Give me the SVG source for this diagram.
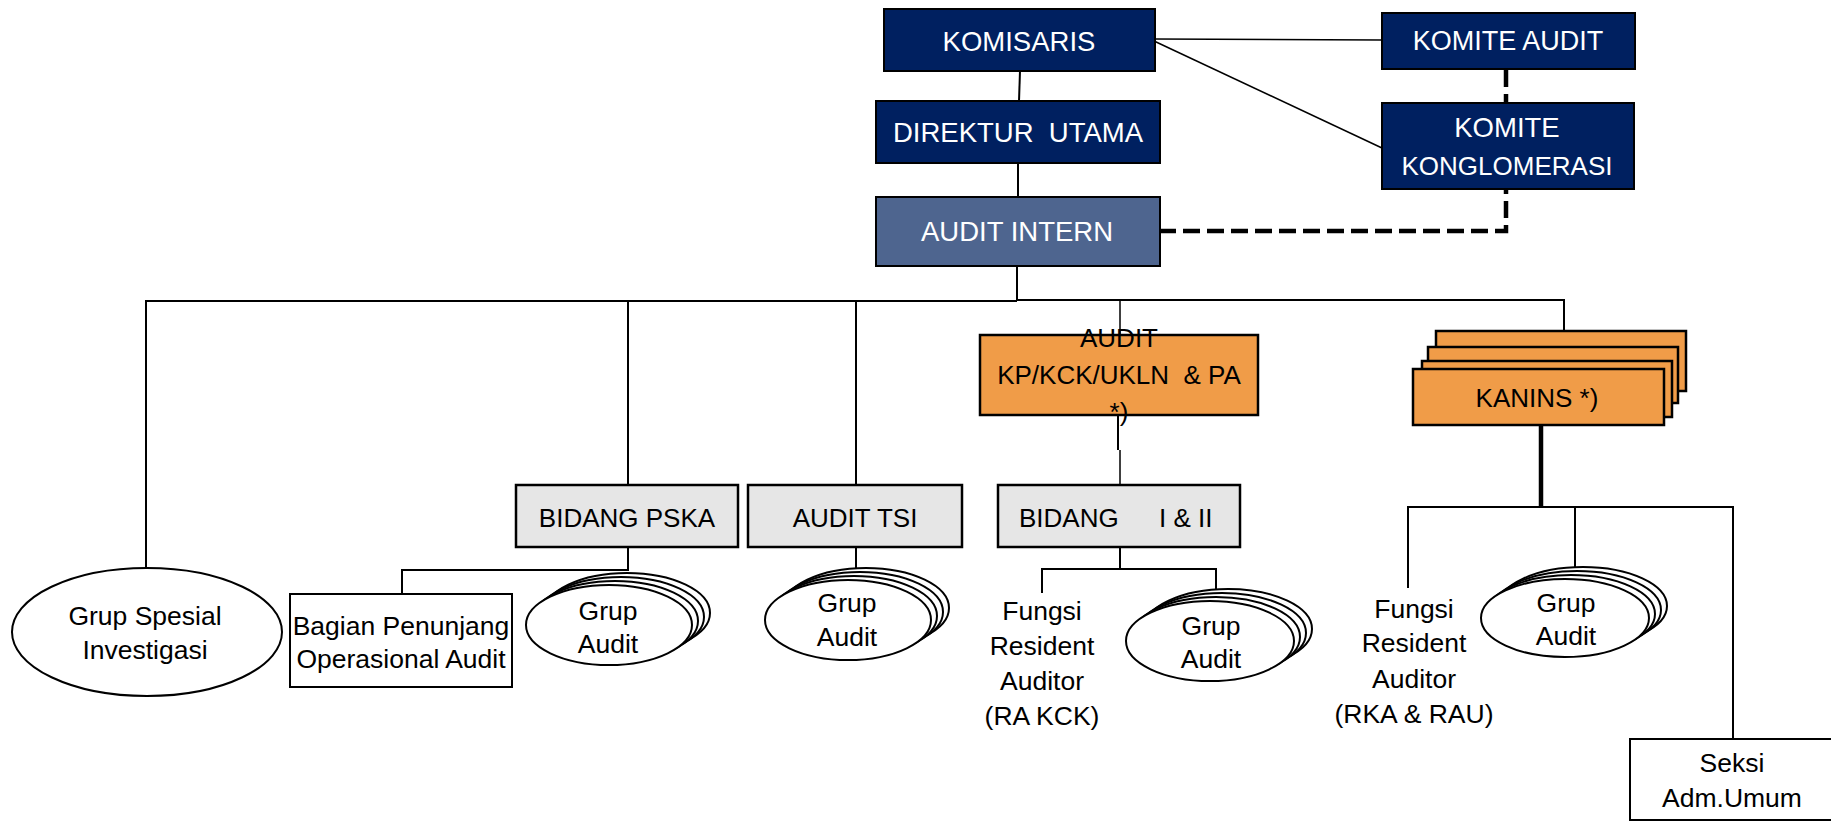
<svg xmlns="http://www.w3.org/2000/svg" width="1831" height="821" viewBox="0 0 1831 821">
<style>
  text { font-family: "Liberation Sans", Arial, sans-serif; text-anchor: middle; }
  .navy { fill: #002060; stroke: #000; stroke-width: 2; }
  .steel { fill: #4e658f; stroke: #000; stroke-width: 2; }
  .orange { fill: #f09c48; stroke: #000; stroke-width: 2.5; }
  .grey { fill: #e6e6e6; stroke: #000; stroke-width: 2.5; }
  .white { fill: #fff; stroke: #000; stroke-width: 2; }
  .ell { fill: #fff; stroke: #000; stroke-width: 2; }
  .wt { fill: #fff; font-size: 27.5px; }
  .bt { fill: #000; font-size: 26px; }
  .lt { fill: #000; font-size: 26.5px; }
  .ln { fill: none; stroke: #000; stroke-width: 2; }
  .thin { fill: none; stroke: #000; stroke-width: 1.5; }
  .thick { fill: none; stroke: #000; stroke-width: 4.5; }
  .dash { fill: none; stroke: #000; stroke-width: 4.5; stroke-dasharray: 17 7; }
</style>

<g id="connectors">
  <line class="ln" x1="1020" y1="71" x2="1019" y2="101"/>
  <line class="ln" x1="1018" y1="163" x2="1018" y2="197"/>
  <line class="thin" x1="1154" y1="39" x2="1382" y2="40"/>
  <line class="thin" x1="1154" y1="41" x2="1382" y2="148"/>
  <path class="dash" d="M1159,231 H1506 V189"/>
  <path class="dash" d="M1506,70 V103" stroke-dasharray="27 10"/>
  <path class="ln" d="M1017,266 V300" stroke-width="2.5"/>
  <path class="ln" d="M146,568 V301 H1017" stroke-width="2.5"/>
  <path class="ln" d="M628,301 V485"/>
  <path class="ln" d="M1017,300 H1564 V331"/>
  <path class="ln" d="M856,300 V485"/>
  <path class="thin" d="M1120,300 V335"/>
  <path class="ln" d="M1118,415 V450"/>
  <path class="thin" d="M1120,450 V485"/>
  <path class="ln" d="M628,547 V570 H402 V594"/>
  <path class="ln" d="M856,547 V568"/>
  <path class="ln" d="M1120,547 V569"/>
  <path class="ln" d="M1042,593 V569 H1216 V590"/>
  <path class="thick" d="M1541,426 V507"/>
  <path class="ln" d="M1408,588 V507 H1733 V739"/>
  <path class="ln" d="M1575,507 V567"/>
</g>

<g id="komisaris">
  <rect class="navy" x="884" y="9" width="271" height="62"/>
  <text class="wt" x="1019" y="51">KOMISARIS</text>
</g>
<g id="komite-audit">
  <rect class="navy" x="1382" y="13" width="253" height="56"/>
  <text class="wt" x="1508" y="50" style="font-size:27px">KOMITE AUDIT</text>
</g>
<g id="direktur-utama">
  <rect class="navy" x="876" y="101" width="284" height="62"/>
  <text class="wt" x="1018" y="142" xml:space="preserve">DIREKTUR  UTAMA</text>
</g>
<g id="komite-konglomerasi">
  <rect class="navy" x="1382" y="103" width="252" height="86"/>
  <text class="wt" x="1507" y="137">KOMITE</text>
  <text class="wt" x="1507" y="175" style="font-size:26px">KONGLOMERASI</text>
</g>
<g id="audit-intern">
  <rect class="steel" x="876" y="197" width="284" height="69"/>
  <text class="wt" x="1017" y="241">AUDIT INTERN</text>
</g>

<g id="audit-kp">
  <rect class="orange" x="980" y="335" width="278" height="80"/>
  <text class="bt" x="1119" y="347">AUDIT</text>
  <text class="bt" x="1119" y="384" xml:space="preserve">KP/KCK/UKLN  &amp; PA</text>
  <text class="bt" x="1119" y="421">*)</text>
</g>

<g id="kanins">
  <rect class="orange" x="1436" y="331" width="250" height="60"/>
  <rect class="orange" x="1428" y="347" width="250" height="56"/>
  <rect class="orange" x="1422" y="361" width="250" height="56"/>
  <rect class="orange" x="1413" y="369" width="251" height="56"/>
  <text class="bt" x="1537" y="407">KANINS *)</text>
</g>

<g id="bidang-pska">
  <rect class="grey" x="516" y="485" width="222" height="62"/>
  <text class="bt" x="627" y="527">BIDANG PSKA</text>
</g>
<g id="audit-tsi">
  <rect class="grey" x="748" y="485" width="214" height="62"/>
  <text class="bt" x="855" y="527">AUDIT TSI</text>
</g>
<g id="bidang-1-2">
  <rect class="grey" x="998" y="485" width="242" height="62"/>
  <text class="bt" y="527" style="text-anchor:start"><tspan x="1019">BIDANG</tspan><tspan x="1159">I &amp; II</tspan></text>
</g>

<g id="grup-spesial-investigasi">
  <ellipse class="ell" cx="147" cy="632" rx="135" ry="64"/>
  <text class="lt" x="145" y="625">Grup Spesial</text>
  <text class="lt" x="145" y="659">Investigasi</text>
</g>

<g id="bagian-penunjang">
  <rect class="white" x="290" y="594" width="222" height="93"/>
  <text class="lt" x="401" y="635">Bagian Penunjang</text>
  <text class="lt" x="401" y="668">Operasional Audit</text>
</g>

<g id="grup-audit-pska">
  <ellipse class="ell" cx="627" cy="613" rx="83" ry="40"/>
  <ellipse class="ell" cx="621" cy="617" rx="83" ry="40"/>
  <ellipse class="ell" cx="615" cy="621" rx="83" ry="40"/>
  <ellipse class="ell" cx="609" cy="625" rx="83" ry="40"/>
  <text class="lt" x="608" y="620">Grup</text>
  <text class="lt" x="608" y="653">Audit</text>
</g>

<g id="grup-audit-tsi">
  <ellipse class="ell" cx="866" cy="608" rx="83" ry="40"/>
  <ellipse class="ell" cx="860" cy="612" rx="83" ry="40"/>
  <ellipse class="ell" cx="854" cy="616" rx="83" ry="40"/>
  <ellipse class="ell" cx="848" cy="620" rx="83" ry="40"/>
  <text class="lt" x="847" y="612">Grup</text>
  <text class="lt" x="847" y="646">Audit</text>
</g>

<g id="fungsi-ra-kck">
  <text class="lt" x="1042" y="620">Fungsi</text>
  <text class="lt" x="1042" y="655">Resident</text>
  <text class="lt" x="1042" y="690">Auditor</text>
  <text class="lt" x="1042" y="725">(RA KCK)</text>
</g>

<g id="grup-audit-bidang">
  <ellipse class="ell" cx="1228" cy="629" rx="84" ry="40"/>
  <ellipse class="ell" cx="1222" cy="633" rx="84" ry="40"/>
  <ellipse class="ell" cx="1216" cy="637" rx="84" ry="40"/>
  <ellipse class="ell" cx="1210" cy="641" rx="84" ry="40"/>
  <text class="lt" x="1211" y="635">Grup</text>
  <text class="lt" x="1211" y="668">Audit</text>
</g>

<g id="fungsi-rka-rau">
  <text class="lt" x="1414" y="618">Fungsi</text>
  <text class="lt" x="1414" y="652">Resident</text>
  <text class="lt" x="1414" y="688">Auditor</text>
  <text class="lt" x="1414" y="723">(RKA &amp; RAU)</text>
</g>

<g id="grup-audit-kanins">
  <ellipse class="ell" cx="1583" cy="606" rx="84" ry="39"/>
  <ellipse class="ell" cx="1577" cy="610" rx="84" ry="39"/>
  <ellipse class="ell" cx="1571" cy="614" rx="84" ry="39"/>
  <ellipse class="ell" cx="1565" cy="618" rx="84" ry="39"/>
  <text class="lt" x="1566" y="612">Grup</text>
  <text class="lt" x="1566" y="645">Audit</text>
</g>

<g id="seksi-adm-umum">
  <rect class="white" x="1630" y="739" width="205" height="81"/>
  <text class="lt" x="1732" y="772">Seksi</text>
  <text class="lt" x="1732" y="807">Adm.Umum</text>
</g>
</svg>
